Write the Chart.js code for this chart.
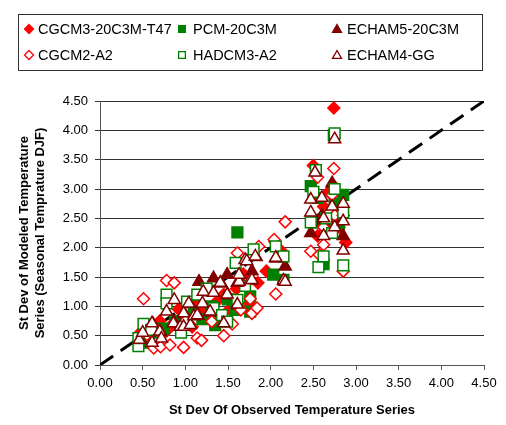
<!DOCTYPE html>
<html>
<head>
<meta charset="utf-8">
<script src="https://cdn.jsdelivr.net/npm/chart.js@4.4.1/dist/chart.umd.min.js"></script>
<style>
  html, body { margin: 0; padding: 0; background: #fff; }
</style>
</head>
<body>
<canvas id="stdevChart" width="506" height="425"></canvas>
<script>
// tick labels shared by both axes
const tickLabels = ['0.00', '0.50', '1.00', '1.50', '2.00', '2.50', '3.00', '3.50', '4.00', '4.50'];

// 1:1 reference line (observed = modeled)
const refLine = [0, 4.5];

// CGCM3-20C3M-T47 (filled red diamonds)
const cgcm3X = [0.47, 0.55, 0.62, 0.70, 0.78, 0.85, 0.92, 1.00, 1.08, 1.15, 1.22, 1.30, 1.38, 1.45, 1.52, 1.60, 1.68, 1.75, 1.85, 1.95, 2.05, 2.12, 2.50, 2.55, 2.62, 2.68, 2.74, 2.80, 2.88, 2.74];
const cgcm3Y = [0.55, 0.48, 0.62, 0.75, 0.58, 0.70, 0.95, 0.80, 0.65, 1.05, 0.92, 0.78, 1.10, 1.20, 0.95, 1.30, 1.55, 1.05, 1.40, 1.60, 2.10, 1.95, 3.40, 2.20, 2.70, 2.95, 4.38, 2.35, 2.09, 3.05];

// PCM-20C3M (filled green squares)
const pcmX = [0.48, 0.55, 0.62, 0.75, 0.88, 1.00, 1.10, 1.20, 1.30, 1.40, 1.50, 1.35, 1.59, 1.61, 1.76, 1.76, 2.03, 2.15, 2.47, 2.55, 2.62, 2.74, 2.75, 2.80, 2.85];
const pcmY = [0.45, 0.38, 0.55, 0.62, 0.75, 0.72, 0.90, 0.78, 1.00, 0.82, 1.12, 0.68, 0.94, 2.26, 1.17, 0.91, 1.54, 1.45, 3.05, 2.85, 1.72, 3.92, 2.75, 2.40, 2.90];

// ECHAM5-20C3M (filled dark red triangles)
const echam5X = [0.47, 0.62, 0.71, 0.87, 0.99, 1.05, 1.15, 1.16, 1.22, 1.30, 1.33, 1.42, 1.49, 1.50, 1.62, 1.64, 1.77, 1.78, 1.83, 2.07, 2.17, 2.47, 2.55, 2.60, 2.65, 2.72, 2.75, 2.85];
const echam5Y = [0.44, 0.70, 0.56, 0.72, 0.87, 1.04, 0.84, 1.42, 1.24, 0.90, 1.48, 1.39, 1.54, 1.19, 1.02, 1.41, 1.44, 1.60, 1.84, 1.82, 1.68, 2.25, 2.40, 2.55, 2.35, 3.10, 2.45, 2.20];

// CGCM2-A2 (open red diamonds)
const cgcm2X = [0.51, 0.55, 0.63, 0.68, 0.71, 0.78, 0.82, 0.87, 0.98, 1.00, 1.14, 1.19, 1.31, 1.45, 1.55, 1.61, 1.65, 1.76, 1.78, 1.84, 1.86, 2.04, 2.06, 2.17, 2.47, 2.55, 2.57, 2.62, 2.62, 2.72, 2.74, 2.75, 2.85, 2.85];
const cgcm2Y = [1.13, 0.52, 0.29, 0.58, 0.31, 1.44, 0.34, 1.40, 0.30, 0.75, 0.46, 0.42, 0.74, 0.50, 0.70, 1.91, 0.94, 1.13, 0.88, 0.97, 2.02, 2.14, 1.21, 2.44, 1.94, 3.20, 1.88, 2.05, 2.35, 2.90, 3.35, 2.55, 1.60, 2.55];

// HADCM3-A2 (open green squares)
const hadcm3X = [0.45, 0.45, 0.51, 0.60, 0.78, 0.78, 0.95, 1.02, 1.14, 1.25, 1.33, 1.43, 1.49, 1.59, 1.61, 1.70, 1.80, 2.06, 2.15, 2.47, 2.50, 2.53, 2.56, 2.62, 2.65, 2.72, 2.75, 2.75, 2.85, 2.85];
const hadcm3Y = [0.32, 0.46, 0.70, 0.60, 1.20, 1.05, 0.55, 1.08, 1.20, 1.30, 0.97, 0.85, 0.74, 1.74, 1.11, 1.35, 1.97, 2.02, 1.85, 2.43, 2.95, 3.32, 1.67, 1.85, 2.50, 2.25, 3.95, 3.00, 1.70, 2.60];

// ECHAM4-GG (open dark red triangles)
const echam4X = [0.46, 0.50, 0.61, 0.61, 0.70, 0.72, 0.78, 0.86, 0.87, 0.94, 0.98, 0.98, 1.04, 1.06, 1.10, 1.14, 1.20, 1.21, 1.29, 1.33, 1.41, 1.45, 1.49, 1.61, 1.61, 1.63, 1.63, 1.70, 1.72, 1.76, 1.78, 1.82, 2.06, 2.06, 2.15, 2.17, 2.47, 2.47, 2.52, 2.60, 2.62, 2.62, 2.72, 2.75, 2.75, 2.85, 2.85, 2.85];
const echam4Y = [0.43, 0.55, 0.71, 0.38, 0.57, 0.45, 0.91, 0.71, 1.11, 0.65, 0.88, 0.65, 1.05, 0.68, 0.83, 0.85, 1.05, 1.25, 0.91, 1.23, 1.40, 0.71, 1.20, 1.03, 1.40, 1.42, 1.54, 1.79, 1.77, 1.45, 1.45, 1.85, 1.82, 1.83, 1.44, 1.42, 2.82, 2.60, 3.28, 2.85, 2.50, 2.20, 2.70, 3.85, 2.35, 2.75, 2.45, 1.95];

const seriesNames = ['CGCM3-20C3M-T47', 'PCM-20C3M', 'ECHAM5-20C3M', 'CGCM2-A2', 'HADCM3-A2', 'ECHAM4-GG'];

const RED = '#ff0000';
const GREEN = '#008000';
const MAROON = '#800000';
const FONT = '"Liberation Sans", Arial, Helvetica, sans-serif';

const toPoints = (xs, ys) => xs.map((x, i) => ({ x: x, y: ys[i] }));

// marker looks, used for both plot and legend
const looks = [
    { shape: 'rectRot', color: RED, fill: RED, radius: 6 },
    { shape: 'rect', color: GREEN, fill: GREEN, radius: 7.6 },
    { shape: 'triangle', color: MAROON, fill: MAROON, radius: 7 },
    { shape: 'rectRot', color: RED, fill: '#ffffff', radius: 6 },
    { shape: 'rect', color: GREEN, fill: '#ffffff', radius: 7.6 },
    { shape: 'triangle', color: MAROON, fill: '#ffffff', radius: 7 },
];
const seriesData = [[cgcm3X, cgcm3Y], [pcmX, pcmY], [echam5X, echam5Y], [cgcm2X, cgcm2Y], [hadcm3X, hadcm3Y], [echam4X, echam4Y]];

const datasets = seriesNames.map((name, i) => ({
    label: name,
    data: toPoints(seriesData[i][0], seriesData[i][1]),
    pointStyle: looks[i].shape,
    pointRadius: looks[i].radius,
    pointBorderWidth: 1.5,
    pointBorderColor: looks[i].color,
    pointBackgroundColor: looks[i].fill,
    showLine: false,
    order: 6 - i, // Excel draws later series on top
}));

datasets.push({
    label: '1:1',
    data: toPoints(refLine, refLine),
    showLine: true,
    borderColor: '#000000',
    borderWidth: 3,
    borderDash: [16, 9],
    pointRadius: 0,
    order: 20,
});

// small marker for the boxed legend
function drawMarker(ctx, look, x, y, r) {
    ctx.beginPath();
    if (look.shape === 'rectRot') {
        ctx.moveTo(x, y - r); ctx.lineTo(x + r, y); ctx.lineTo(x, y + r); ctx.lineTo(x - r, y);
    } else if (look.shape === 'rect') {
        const s = r * 0.75;
        ctx.rect(x - s, y - s, 2 * s, 2 * s);
    } else {
        ctx.moveTo(x, y - r); ctx.lineTo(x + r, y + r * 0.75); ctx.lineTo(x - r, y + r * 0.75);
    }
    ctx.closePath();
    ctx.fillStyle = look.fill;
    ctx.fill();
    ctx.lineWidth = 1.3;
    ctx.strokeStyle = look.color;
    ctx.stroke();
}

const boxLegend = {
    id: 'boxLegend',
    afterDraw(chart) {
        const ctx = chart.ctx;
        ctx.save();
        ctx.strokeStyle = '#333333';
        ctx.lineWidth = 1;
        ctx.strokeRect(18.5, 14.5, 464, 56);
        ctx.font = '14.5px ' + FONT;
        ctx.textBaseline = 'middle';
        const markX = [29, 182, 337];
        const textX = [38, 193, 347];
        const rowY = [29, 55];
        seriesNames.forEach((name, i) => {
            const col = i % 3, row = Math.floor(i / 3);
            drawMarker(ctx, looks[i], markX[col], rowY[row], 4.5);
            ctx.fillStyle = '#000000';
            ctx.fillText(name, textX[col], rowY[row] + 1);
        });
        ctx.restore();
    }
};

const tickSetup = (s) => { s.ticks = tickLabels.map(t => ({ value: parseFloat(t) })); };

new Chart(document.getElementById('stdevChart').getContext('2d'), {
    type: 'scatter',
    data: { datasets: datasets },
    plugins: [boxLegend],
    options: {
        responsive: false,
        animation: false,
        layout: { padding: { top: 101, left: 0, right: 22, bottom: 0 } },
        plugins: {
            legend: { display: false },
            tooltip: { enabled: false },
        },
        scales: {
            x: {
                type: 'linear',
                min: 0,
                max: 4.5,
                afterBuildTicks: tickSetup,
                afterFit: (s) => { s.height = 60; },
                ticks: {
                    callback: (v, i) => tickLabels[i],
                    color: '#000000',
                    font: { size: 13, family: FONT },
                    padding: 6,
                    maxRotation: 0,
                    autoSkip: false,
                },
                grid: { drawOnChartArea: false, drawTicks: true, tickLength: 5, color: '#555555' },
                border: { color: '#555555', width: 1 },
                title: {
                    display: true,
                    text: 'St Dev Of Observed Temperature Series',
                    color: '#000000',
                    font: { size: 13, weight: 'bold', family: FONT },
                    padding: { top: 0, bottom: 7 },
                },
            },
            y: {
                type: 'linear',
                min: 0,
                max: 4.5,
                afterBuildTicks: tickSetup,
                afterFit: (s) => { s.width = 100; },
                ticks: {
                    callback: (v, i) => tickLabels[i],
                    color: '#000000',
                    font: { size: 13, family: FONT },
                    padding: 7,
                },
                grid: { color: '#333333', lineWidth: 1, tickLength: 5 },
                border: { color: '#555555', width: 1 },
                title: {
                    display: true,
                    text: ['St Dev of Modeled Temperature', 'Series (Seasonal Temprature DJF)'],
                    color: '#000000',
                    font: { size: 13, weight: 'bold', family: FONT, lineHeight: 1.25 },
                    padding: { top: 16, bottom: 0 },
                },
            },
        },
    },
});
</script>
</body>
</html>
